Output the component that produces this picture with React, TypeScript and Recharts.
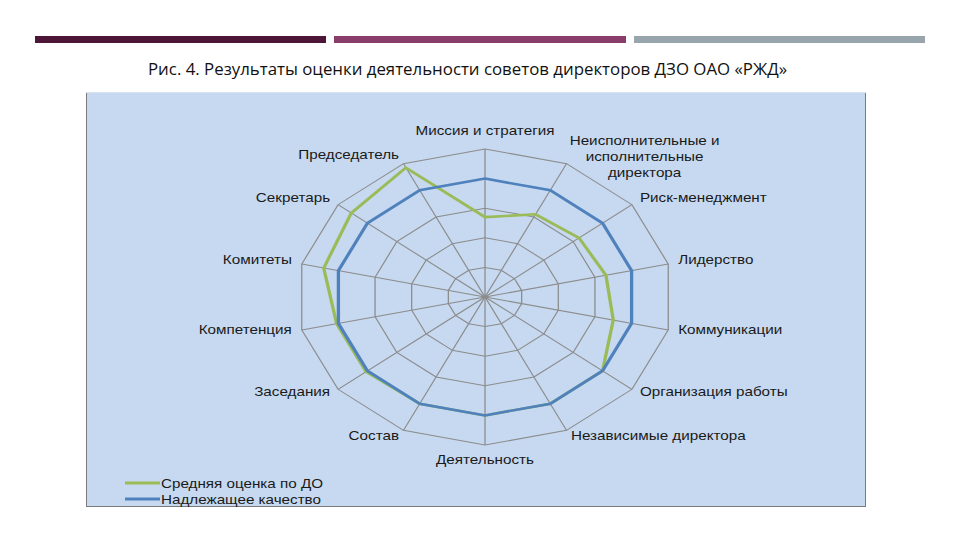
import React from 'react';
import { RadarChart, Radar, PolarGrid, PolarAngleAxis, PolarRadiusAxis } from 'recharts';

const categories = [
  'Миссия и стратегия',
  'Неисполнительные и исполнительные директора',
  'Риск-менеджмент',
  'Лидерство',
  'Коммуникации',
  'Организация работы',
  'Независимые директора',
  'Деятельность',
  'Состав',
  'Заседания',
  'Компетенция',
  'Комитеты',
  'Секретарь',
  'Председатель',
];
const tickLines: string[][] = [
  ['Миссия и стратегия'],
  ['Неисполнительные и', 'исполнительные', 'директора'],
  ['Риск-менеджмент'],
  ['Лидерство'],
  ['Коммуникации'],
  ['Организация работы'],
  ['Независимые директора'],
  ['Деятельность'],
  ['Состав'],
  ['Заседания'],
  ['Компетенция'],
  ['Комитеты'],
  ['Секретарь'],
  ['Председатель'],
];
const avgScore = [2.7, 3.1, 3.2, 3.3, 3.5, 4.0, 4.0, 4.0, 4.0, 4.05, 4.05, 4.4, 4.55, 4.85];
const properQuality = [4, 4, 4, 4, 4, 4, 4, 4, 4, 4, 4, 4, 4, 4];
const seriesNames = ['Средняя оценка по ДО', 'Надлежащее качество'];
const titleText = 'Рис. 4. Результаты оценки деятельности советов директоров ДЗО ОАО «РЖД»';

const GREEN = '#9bbb59';
const BLUE = '#4f81bd';
const STRETCH = 1.27;
const CW = 560;
const CH = 400;

const data = categories.map((name, i) => ({ name, avg: avgScore[i], proper: properQuality[i] }));

function AngleTick(props: any) {
  const { x, y, payload, textAnchor, cy } = props;
  let index = props.index;
  if (typeof index !== 'number') index = categories.indexOf(payload.value);
  const lines = tickLines[index] ?? [String(payload.value)];
  let anchor = textAnchor;
  let dx = 0;
  let dy = -2;
  if (anchor === 'middle') dy = y < cy ? -10 : 7;
  if (lines.length > 1) {
    anchor = 'middle';
    dx = 58;
    dy = -16;
  }
  return (
    <text
      x={x + dx}
      y={y + dy}
      textAnchor={anchor}
      fill="#1a1a1a"
      fontSize={12}
      fontFamily="'Liberation Sans', Arial, sans-serif"
    >
      {lines.map((l, i) => (
        <tspan key={i} x={x + dx} dy={i === 0 ? '0.35em' : 16}>
          {l}
        </tspan>
      ))}
    </text>
  );
}

export default function App() {
  return (
    <div style={{ position: 'absolute', left: 0, top: 0, width: 960, height: 540, background: '#ffffff', overflow: 'hidden' }}>
      <svg width={960} height={540} style={{ position: 'absolute', left: 0, top: 0 }}>
        <rect x={35} y={36} width={291} height={7} fill="#4d1636" />
        <rect x={334} y={36} width={292} height={7} fill="#883d6b" />
        <rect x={634} y={36} width={291} height={7} fill="#98a5ad" />
        <text
          x={467.5}
          y={75}
          textAnchor="middle"
          fontSize={16}
          fontFamily="'Liberation Sans Narrow', 'Open Sans', sans-serif"
          fill="#111"
          textLength={639}
          lengthAdjust="spacingAndGlyphs"
        >
          {titleText}
        </text>
        <rect x={86} y={92} width={780} height={414} fill="#c6d9f0" />
        <line x1={86.5} y1={92} x2={86.5} y2={506} stroke="#7a7a7a" strokeWidth={1} />
        <line x1={86} y1={506.5} x2={866} y2={506.5} stroke="#7a7a7a" strokeWidth={1} />
        <line x1={865.5} y1={92} x2={865.5} y2={506} stroke="#7a7a7a" strokeWidth={1} />
        <line x1={86} y1={92.5} x2={866} y2={92.5} stroke="#d8e3f0" strokeWidth={1} />
      </svg>
      <div
        style={{
          position: 'absolute',
          left: 485 - CW / 2,
          top: 97,
          width: CW,
          height: CH,
          transform: `scaleX(${STRETCH})`,
          transformOrigin: `${CW / 2}px ${CH / 2}px`,
        }}
      >
        <RadarChart width={CW} height={CH} cx={CW / 2} cy={CH / 2} outerRadius={148} data={data} margin={{ top: 0, right: 0, bottom: 0, left: 0 }}>
          <PolarGrid gridType="polygon" stroke="#8c8c8c" strokeWidth={1} />
          <PolarAngleAxis dataKey="name" tick={<AngleTick />} tickLine={false} axisLine={false} />
          <PolarRadiusAxis domain={[0, 5]} tickCount={6} tick={false} axisLine={false} />
          <Radar
            name={seriesNames[0]}
            dataKey="avg"
            stroke={GREEN}
            strokeWidth={2.6}
            fill="none"
            fillOpacity={0}
            dot={false}
            isAnimationActive={false}
          />
          <Radar
            name={seriesNames[1]}
            dataKey="proper"
            stroke={BLUE}
            strokeWidth={2.6}
            fill="none"
            fillOpacity={0}
            dot={false}
            isAnimationActive={false}
          />
        </RadarChart>
      </div>
      <svg width={960} height={540} style={{ position: 'absolute', left: 0, top: 0, pointerEvents: 'none' }}>
        <line x1={125} y1={483} x2={160} y2={483} stroke={GREEN} strokeWidth={3} />
        <text x={161} y={487.5} fontSize={13} fontFamily="'Liberation Sans', Arial, sans-serif" fill="#1a1a1a" textLength={162} lengthAdjust="spacingAndGlyphs">
          {seriesNames[0]}
        </text>
        <line x1={125} y1={499} x2={160} y2={499} stroke={BLUE} strokeWidth={3} />
        <text x={161} y={503.5} fontSize={13} fontFamily="'Liberation Sans', Arial, sans-serif" fill="#1a1a1a" textLength={160} lengthAdjust="spacingAndGlyphs">
          {seriesNames[1]}
        </text>
      </svg>
    </div>
  );
}
